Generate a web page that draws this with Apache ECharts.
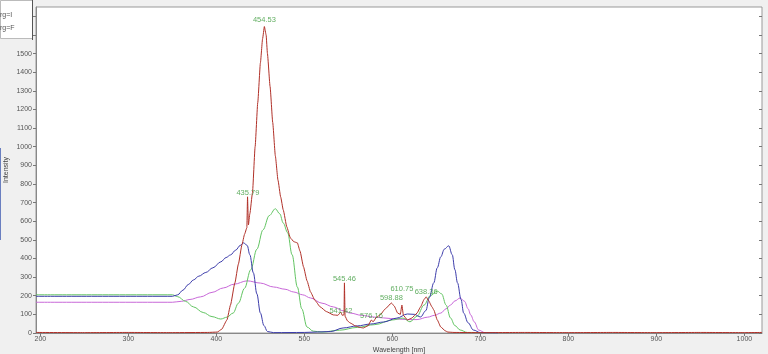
<!DOCTYPE html>
<html>
<head>
<meta charset="utf-8">
<script src="https://cdn.jsdelivr.net/npm/echarts@6/dist/echarts.min.js"></script>
<style>
  html, body { margin: 0; padding: 0; background: #f0f0f0; }
  #chart { width: 768px; height: 354px; }
</style>
</head>
<body>
<div id="chart"></div>
<script>
// measured spectrum (trg=I), intensity vs wavelength [nm]
var redSpectrum = [
  [195, 3], [250, 2], [300, 3], [350, 2], [390, 3], [401, 5], [406, 20], [412, 70], [416, 150],
  [421, 269], [425, 370], [429, 473], [432, 530], [434.6, 565], [435.4, 731], [435.9, 731],
  [436.4, 580], [438, 640], [441, 753], [444, 1000], [447, 1237], [450, 1450], [452.5, 1580],
  [454.5, 1645], [456.5, 1600], [458, 1500], [461, 1323], [464, 1130], [467, 950], [470, 820],
  [473, 731], [476, 660], [480, 570], [484, 511], [488, 490], [492, 484], [495, 440], [499, 355],
  [503, 280], [507, 220], [512, 175], [518, 140], [525, 115], [533, 97], [538, 95], [541.4, 112],
  [543, 95], [545, 98], [545.5, 269], [546.2, 90], [549, 65], [552, 54], [558, 38], [563, 30],
  [567, 27], [572, 38], [576.2, 70], [578, 60], [582, 85], [586, 97], [592, 130], [598.9, 161],
  [602, 145], [606, 107], [609, 100], [610.8, 150], [612.5, 95], [617, 70], [622, 80], [628, 107],
  [632, 140], [636, 180], [638.4, 194], [641, 175], [645, 140], [647, 124], [651, 70], [655, 32],
  [660, 12], [663, 5], [670, 3], [700, 2], [750, 3], [800, 2], [850, 3], [900, 2], [950, 3],
  [1000, 2], [1020, 3]
];

// reference curves (trg=F)
var blueCurve = [
  [195, 197], [350, 197], [356, 205], [362, 230], [368, 260], [374, 285], [380, 305], [388, 325],
  [396, 350], [405, 382], [411, 405], [416, 419], [422, 445], [427, 470], [431, 484], [435, 470],
  [438, 420], [442, 323], [446, 210], [450, 107], [454, 40], [458, 8], [465, 2], [500, 3],
  [530, 8], [544, 27], [560, 38], [575, 48], [590, 59], [605, 80], [617, 102], [625, 100],
  [632, 86], [638, 120], [642, 190], [647, 269], [651, 350], [655, 409], [659, 450], [664, 468],
  [668, 420], [671, 340], [674, 269], [678, 180], [681, 107], [686, 55], [692, 16], [700, 2],
  [720, 0]
];

var greenCurve = [
  [195, 205], [350, 205], [356, 195], [365, 170], [374, 140], [385, 110], [395, 88], [405, 75],
  [412, 85], [419, 107], [425, 160], [432, 240], [439, 339], [446, 450], [453, 554], [460, 630],
  [467, 667], [472, 640], [476, 590], [481, 538], [486, 420], [492, 247], [497, 130], [503, 32],
  [510, 10], [520, 5], [540, 15], [560, 30], [580, 45], [600, 70], [612, 80], [620, 60],
  [628, 90], [636, 150], [643, 200], [651, 225], [656, 210], [661, 150], [666, 81], [671, 40],
  [677, 16], [685, 3], [720, 0]
];

var magentaCurve = [
  [195, 165], [350, 165], [360, 170], [370, 180], [382, 194], [395, 218], [408, 242], [420, 262],
  [435, 280], [450, 268], [465, 247], [478, 235], [488, 220], [498, 205], [507, 188], [520, 160],
  [533, 140], [545, 118], [552, 107], [565, 95], [578, 86], [590, 81], [605, 75], [617, 72],
  [628, 72], [640, 85], [648, 95], [655, 107], [661, 130], [666, 150], [671, 172], [677, 188],
  [682, 170], [686, 130], [689, 97], [693, 60], [698, 16], [705, 2], [720, 0]
];

// labelled peaks [wavelength, intensity]
var peaks = [
  [454.53, 1645], [435.79, 731], [545.46, 269], [541.42, 112],
  [576.16, 70], [598.88, 161], [610.75, 150], [638.36, 194]
];

var xTicks = [200, 300, 400, 500, 600, 700, 800, 900, 1000];
var yTicks = [0, 100, 200, 300, 400, 500, 600, 700, 800, 900, 1000, 1100, 1200, 1300, 1400, 1500, 1600, 1700];

// label lift above each peak (px)
var peakLift = [3, 0, 0, -3, 0, 1, 12, 1];

var chart = echarts.init(document.getElementById('chart'), null, { renderer: 'canvas' });

var font = 'Liberation Sans';
var labelStyle = {
  fontFamily: font, fontSize: 7, color: '#555',
  formatter: function (v) { return String(v); }
};

function lineSeries(data, color, smooth) {
  return {
    type: 'line',
    data: data,
    showSymbol: false,
    smooth: smooth,
    smoothMonotone: 'x',
    lineStyle: { color: color, width: 1 },
    itemStyle: { color: color },
    silent: true
  };
}

var options = {
  animation: false,
  backgroundColor: '#f0f0f0',
  grid: {
    left: 36, right: 6, top: 7, bottom: 21,
    containLabel: false, outerBoundsMode: 'none',
    show: true, backgroundColor: '#fff', borderColor: '#999', borderWidth: 1
  },
  xAxis: [{
    type: 'value', min: 195, max: 1020,
    name: 'Wavelength [nm]', nameLocation: 'middle', nameGap: 14, nameMoveOverlap: false,
    nameTextStyle: { fontFamily: font, fontSize: 7, color: '#444' },
    axisLine: { lineStyle: { color: '#888' } },
    axisTick: { customValues: xTicks, length: 3, lineStyle: { color: '#777' } },
    axisLabel: Object.assign({ customValues: xTicks, margin: 3 }, labelStyle),
    splitLine: { show: false }
  }, {
    type: 'value', min: 195, max: 1020, position: 'top',
    axisLine: { show: false },
    axisTick: { customValues: xTicks, inside: true, length: 3, lineStyle: { color: '#777' } },
    axisLabel: { show: false },
    splitLine: { show: false }
  }],
  yAxis: [{
    type: 'value', min: 0, max: 1750,
    name: 'Intensity', nameLocation: 'middle', nameGap: 26, nameMoveOverlap: false,
    nameTextStyle: { fontFamily: font, fontSize: 7, color: '#444' },
    axisLine: { show: true, lineStyle: { color: '#888' } },
    axisTick: { show: true, customValues: yTicks, length: 3, lineStyle: { color: '#777' } },
    axisLabel: Object.assign({ customValues: yTicks, margin: 4 }, labelStyle),
    splitLine: { show: false }
  }, {
    type: 'value', min: 0, max: 1750, position: 'right',
    axisLine: { show: false },
    axisTick: { show: true, customValues: yTicks, inside: true, length: 3, lineStyle: { color: '#777' } },
    axisLabel: { show: false },
    splitLine: { show: false }
  }],
  series: [
    lineSeries(magentaCurve, '#c868d8', 0.35),
    lineSeries(greenCurve, '#62c462', 0.35),
    lineSeries(blueCurve, '#3c3caa', 0.35),
    lineSeries(redSpectrum, '#b03028', 0.15),
    {
      type: 'scatter',
      symbolSize: 0,
      silent: true,
      data: peaks.map(function (p, i) {
        return {
          value: p,
          label: { distance: peakLift[i] }
        };
      }),
      label: {
        show: true,
        position: 'top',
        fontFamily: font,
        fontSize: 7.5,
        color: '#3a9a3a',
        formatter: function (params) {
          return params.value[0].toFixed(2);
        }
      },
      z: 5
    }
  ],
  graphic: [
    { type: 'rect', left: 0, top: 148, shape: { width: 1, height: 92 }, style: { fill: '#6a7fc0' }, z: 100 },
    { type: 'rect', left: 0, top: 0, shape: { width: 32, height: 38 }, style: { fill: '#fff', stroke: '#bbb', lineWidth: 1 }, z: 100 },
    { type: 'rect', left: 32, top: 0, shape: { width: 1, height: 40 }, style: { fill: '#555' }, z: 101 },
    { type: 'text', left: -2, top: 12, style: { text: 'trg=I', font: '7px "Liberation Sans"', fill: '#555' }, z: 101 },
    { type: 'text', left: -2, top: 25, style: { text: 'trg=F', font: '7px "Liberation Sans"', fill: '#555' }, z: 101 }
  ]
};

chart.setOption(options);
</script>
</body>
</html>
